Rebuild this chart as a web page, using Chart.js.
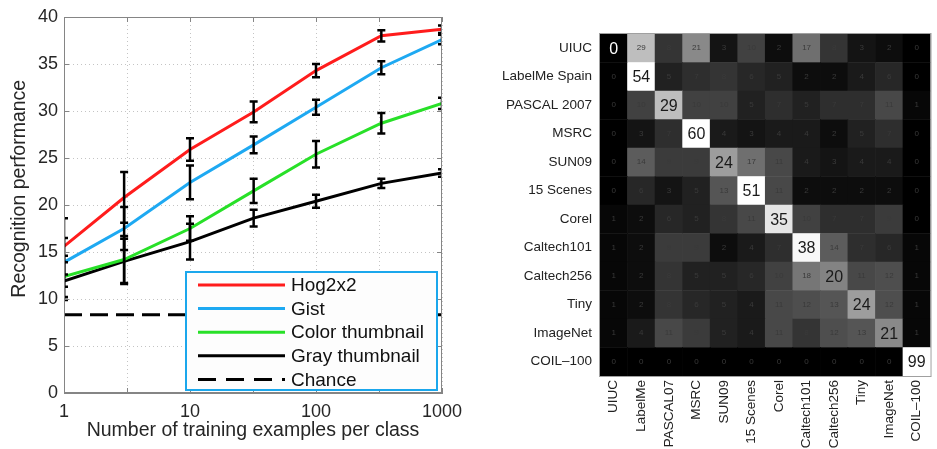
<!DOCTYPE html>
<html lang="en">
<head>
<meta charset="UTF-8">
<title>Recognition performance and dataset confusion</title>
<script src="https://cdn.jsdelivr.net/npm/chart.js"></script>
<style>
  body { margin: 0; background: #fff; }
  .wrap { position: absolute; top: 0; height: 449px; }
  #left { left: 0; width: 475px; }
  #right { left: 480px; width: 457px; }
</style>
</head>
<body>
<div class="wrap" id="left"><canvas id="perfChart"></canvas></div>
<div class="wrap" id="right"><canvas id="confChart"></canvas></div>
<script>
// ---- left plot: recognition vs. training size ----
const trainSizes = [1, 3, 10, 32, 100, 330, 1000];
const xGridTicks = [1, 3.1623, 10, 31.623, 100, 316.23, 1000];
const xTickLabels = [1, 10, 100, 1000];

const hog2x2 = [15.6, 20.8, 25.9, 29.9, 34.3, 38.0, 38.7];
const hog2x2Err = [3.0, 2.7, 1.2, 1.1, 0.7, 0.6, 0.4];
const gist = [13.9, 17.5, 22.4, 26.4, 30.4, 34.6, 37.6];
const gistErr = [2.6, 2.3, 1.8, 0.9, 0.8, 0.7, 0.5];
const colorThumb = [12.4, 14.2, 17.5, 21.5, 25.4, 28.7, 30.8];
const colorThumbErr = [2.2, 2.5, 1.3, 1.3, 1.4, 1.1, 0.6];
const grayThumb = [11.9, 14.0, 16.1, 18.6, 20.4, 22.3, 23.4];
const grayThumbErr = [2.0, 2.4, 1.9, 0.9, 0.7, 0.5, 0.4];
const chance = 8.33;

// ---- right plot: cross-dataset confusion matrix (%) ----
const rowNames = ['UIUC', 'LabelMe Spain', 'PASCAL 2007', 'MSRC', 'SUN09', '15 Scenes',
                  'Corel', 'Caltech101', 'Caltech256', 'Tiny', 'ImageNet', 'COIL\u2013100'];
const colNames = ['UIUC', 'LabelMe', 'PASCAL07', 'MSRC', 'SUN09', '15 Scenes',
                  'Corel', 'Caltech101', 'Caltech256', 'Tiny', 'ImageNet', 'COIL\u2013100'];
const confusion = [
  [0, 29, 8, 21, 3, 10, 2, 17, 8, 3, 2, 0],
  [0, 54, 5, 7, 8, 6, 5, 2, 2, 4, 6, 0],
  [0, 10, 29, 10, 10, 5, 7, 5, 7, 7, 11, 1],
  [0, 3, 7, 60, 4, 3, 4, 4, 2, 5, 7, 0],
  [0, 14, 9, 9, 24, 17, 11, 4, 3, 4, 4, 0],
  [0, 6, 3, 5, 13, 51, 11, 2, 2, 2, 2, 0],
  [1, 2, 6, 5, 8, 11, 35, 10, 7, 7, 9, 0],
  [1, 2, 9, 9, 2, 4, 7, 38, 14, 7, 6, 1],
  [1, 2, 8, 5, 5, 6, 10, 18, 20, 11, 12, 1],
  [1, 2, 8, 6, 5, 4, 11, 12, 13, 24, 12, 1],
  [1, 4, 11, 9, 5, 4, 11, 8, 12, 13, 21, 1],
  [0, 0, 0, 0, 0, 0, 0, 0, 0, 0, 0, 99]
];

Chart.defaults.font.family = '"Liberation Sans", Arial, sans-serif';
Chart.defaults.color = '#262626';

const series = [hog2x2, gist, colorThumb, grayThumb];
const seriesErr = [hog2x2Err, gistErr, colorThumbErr, grayThumbErr];

function points(vals) {
  return trainSizes.map((t, i) => ({ x: t, y: vals[i] }));
}

const frameAndErrors = {
  id: 'frameAndErrors',
  afterDatasetsDraw(chart) {
    const { ctx, chartArea: a, scales: { x, y } } = chart;
    ctx.save();
    // error bars, clipped to the axes box
    ctx.beginPath();
    ctx.rect(a.left, a.top, a.right - a.left, a.bottom - a.top);
    ctx.clip();
    ctx.strokeStyle = '#000';
    ctx.lineWidth = 2.5;
    series.forEach((vals, d) => {
      trainSizes.forEach((t, i) => {
        const px = x.getPixelForValue(t);
        const top = y.getPixelForValue(vals[i] + seriesErr[d][i]);
        const bot = y.getPixelForValue(vals[i] - seriesErr[d][i]);
        ctx.beginPath();
        ctx.moveTo(px, top); ctx.lineTo(px, bot);
        ctx.moveTo(px - 4, top); ctx.lineTo(px + 4, top);
        ctx.moveTo(px - 4, bot); ctx.lineTo(px + 4, bot);
        ctx.stroke();
      });
    });
    ctx.restore();

    // box and inner tick marks
    ctx.save();
    ctx.strokeStyle = '#858585';
    ctx.lineWidth = 1;
    ctx.strokeRect(a.left + 0.5, a.top + 0.5, a.right - a.left - 1, a.bottom - a.top - 1);
    ctx.beginPath();
    y.ticks.forEach(t => {
      const py = Math.round(y.getPixelForValue(t.value)) + 0.5;
      ctx.moveTo(a.left, py); ctx.lineTo(a.left + 5, py);
      ctx.moveTo(a.right, py); ctx.lineTo(a.right - 5, py);
    });
    x.ticks.forEach(t => {
      const px = Math.round(x.getPixelForValue(t.value)) + 0.5;
      ctx.moveTo(px, a.bottom); ctx.lineTo(px, a.bottom - 5);
      ctx.moveTo(px, a.top); ctx.lineTo(px, a.top + 5);
    });
    ctx.stroke();
    ctx.restore();
  },
  afterDraw(chart) {
    // legend box in the lower right corner of the axes
    const { ctx, chartArea: a } = chart;
    const w = 251, h = 118;
    const left = a.right - w - 5, top = a.bottom - h - 3;
    ctx.save();
    ctx.fillStyle = '#fdfdfd';
    ctx.fillRect(left, top, w, h);
    ctx.strokeStyle = '#1ba7ec';
    ctx.lineWidth = 2;
    ctx.strokeRect(left, top, w, h);
    ctx.font = '19px "Liberation Sans", Arial, sans-serif';
    ctx.textBaseline = 'middle';
    chart.data.datasets.forEach((ds, i) => {
      const cy = top + 13 + i * 23.6;
      ctx.strokeStyle = ds.borderColor;
      ctx.lineWidth = 3;
      ctx.setLineDash(ds.borderDash ? [18, 10] : []);
      ctx.beginPath();
      ctx.moveTo(left + 12, cy); ctx.lineTo(left + 99, cy);
      ctx.stroke();
      ctx.setLineDash([]);
      ctx.fillStyle = '#111';
      ctx.fillText(ds.label, left + 105, cy + 1);
    });
    ctx.restore();
  }
};

new Chart(document.getElementById('perfChart'), {
  type: 'line',
  data: {
    datasets: [
      { label: 'Hog2x2', data: points(hog2x2), borderColor: '#ff1c1c', borderWidth: 3 },
      { label: 'Gist', data: points(gist), borderColor: '#1ea9f2', borderWidth: 3 },
      { label: 'Color thumbnail', data: points(colorThumb), borderColor: '#28e028', borderWidth: 3 },
      { label: 'Gray thumbnail', data: points(grayThumb), borderColor: '#000000', borderWidth: 3 },
      { label: 'Chance', data: [{ x: 1, y: chance }, { x: 1000, y: chance }],
        borderColor: '#000000', borderWidth: 3, borderDash: [18, 8] }
    ]
  },
  options: {
    responsive: true,
    maintainAspectRatio: false,
    animation: false,
    elements: { point: { radius: 0 }, line: { tension: 0 } },
    layout: { padding: { top: 17, right: 33, left: 0, bottom: 0 } },
    plugins: { legend: { display: false }, tooltip: { enabled: false } },
    scales: {
      x: {
        type: 'logarithmic', min: 1, max: 1000,
        afterBuildTicks: s => { s.ticks = xGridTicks.map(v => ({ value: v })); },
        afterFit: s => { s.height = 56; },
        grid: { color: '#c4c4c4', drawTicks: false },
        border: { color: '#858585', dash: [1, 3] },
        ticks: {
          autoSkip: false, maxRotation: 0, padding: 8, font: { size: 18 },
          callback: v => xTickLabels.includes(v) ? String(v) : ''
        },
        title: { display: true, text: 'Number of training examples per class',
                 font: { size: 19.5 }, padding: { top: 0, bottom: 7 } }
      },
      y: {
        min: 0, max: 40,
        afterFit: s => { s.width = 64; },
        grid: { color: '#c4c4c4', drawTicks: false },
        border: { color: '#858585', dash: [1, 3] },
        ticks: { stepSize: 5, padding: 6, font: { size: 18 } },
        // leading spaces nudge the label upwards, as in the original figure
        title: { display: true, text: '      Recognition performance',
                 font: { size: 19.5 }, padding: { top: 8, bottom: 0 } }
      }
    }
  },
  plugins: [frameAndErrors]
});

// ---- confusion matrix as stacked unit bars ----
function shade(v) {
  const g = Math.min(255, Math.round(v * 255 / 39));
  return `rgb(${g},${g},${g})`;
}

const rowDatasets = [];
for (let d = 0; d < rowNames.length; d++) {
  const r = rowNames.length - 1 - d;  // bottom bar is the last row
  rowDatasets.push({
    label: rowNames[r],
    row: r,
    data: colNames.map(() => 1),
    backgroundColor: confusion[r].map(shade),
    borderWidth: 0,
    barPercentage: 1,
    categoryPercentage: 1
  });
}

const cellText = {
  id: 'cellText',
  afterDatasetsDraw(chart) {
    const { ctx, chartArea: a } = chart;
    ctx.save();
    ctx.textAlign = 'center';
    ctx.textBaseline = 'middle';
    chart.data.datasets.forEach((ds, d) => {
      const r = ds.row;
      chart.getDatasetMeta(d).data.forEach((el, c) => {
        const v = confusion[r][c];
        const cy = (el.y + el.base) / 2;
        if (r === c) {
          ctx.font = '16px "Liberation Sans", Arial, sans-serif';
          ctx.fillStyle = v < 5 ? '#ffffff' : '#1a1a1a';
          ctx.fillText(String(v), el.x, cy + 1);
        } else {
          ctx.font = '8px "Liberation Sans", Arial, sans-serif';
          ctx.fillStyle = '#3a3a3a';
          ctx.fillText(String(v), el.x, cy);
        }
      });
    });
    ctx.strokeStyle = '#a0a0a0';
    ctx.lineWidth = 1;
    ctx.strokeRect(a.left - 0.5, a.top - 0.5, a.right - a.left + 1, a.bottom - a.top + 1);
    ctx.restore();
  }
};

new Chart(document.getElementById('confChart'), {
  type: 'bar',
  data: { labels: colNames, datasets: rowDatasets },
  options: {
    responsive: true,
    maintainAspectRatio: false,
    animation: false,
    layout: { padding: { top: 34, right: 1, left: 0, bottom: 0 } },
    plugins: { legend: { display: false }, tooltip: { enabled: false } },
    scales: {
      x: {
        stacked: true,
        afterFit: s => { s.height = 73; },
        grid: { display: false, drawTicks: false },
        border: { display: false },
        ticks: { autoSkip: false, minRotation: 90, maxRotation: 90, padding: 4,
                 font: { size: 13.5 }, color: '#222' }
      },
      y: {
        stacked: true, min: 0, max: rowNames.length,
        afterBuildTicks: s => {
          s.ticks = rowNames.map((n, i) => ({ value: rowNames.length - 0.5 - i }));
        },
        afterFit: s => { s.width = 120; },
        grid: { display: false, drawTicks: false },
        border: { display: false },
        ticks: {
          padding: 8, font: { size: 13.5 }, color: '#222',
          callback: v => rowNames[Math.round(rowNames.length - 0.5 - v)]
        }
      }
    }
  },
  plugins: [cellText]
});
</script>
</body>
</html>
